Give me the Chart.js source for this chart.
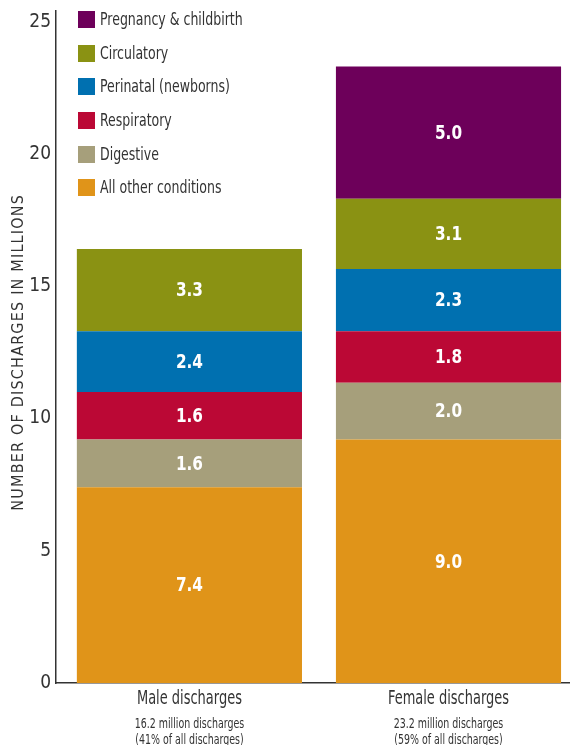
<!DOCTYPE html>
<html>
<head>
<meta charset="utf-8">
<script src="https://cdn.jsdelivr.net/npm/chart.js@4"></script>
<style>
  body { margin: 0; background: #fff; }
  #wrap { position: relative; width: 570px; height: 745px; }
  #legend { position: absolute; left: 78px; top: 11px; font: 17px "DejaVu Sans Condensed", sans-serif; color: #333; }
  #legend div { height: 33.7px; display: flex; align-items: flex-start; white-space: nowrap; }
  #legend span.sw { width: 17px; height: 17px; margin-right: 5px; flex: none; }
  #legend span.tx { line-height: 17px; display: inline-block; transform: scaleX(0.82); transform-origin: left center; }
</style>
</head>
<body>
<div id="wrap">
  <canvas id="chart" width="570" height="745"></canvas>
  <div id="legend"></div>
</div>
<script>
// groups on the x axis
const groups = ['Male discharges', 'Female discharges'];
const groupNotes = [
    ['16.2 million discharges', '(41% of all discharges)'],
    ['23.2 million discharges', '(59% of all discharges)']
];

// stacked from the bottom up
const conditions = ['All other conditions', 'Digestive', 'Respiratory', 'Perinatal (newborns)', 'Circulatory', 'Pregnancy & childbirth'];
const colors = ['#e09419', '#a69f7b', '#bb0835', '#0070b0', '#8a9213', '#6d005a'];

// segment heights as drawn (millions)
const maleHeights = [7.4, 1.8, 1.8, 2.3, 3.1, null];
const femaleHeights = [9.2, 2.15, 1.95, 2.35, 2.65, 5.0];

// numbers printed on the segments
const maleLabels = ['7.4', '1.6', '1.6', '2.4', '3.3', ''];
const femaleLabels = ['9.0', '2.0', '1.8', '2.3', '3.1', '5.0'];

const yTicks = [0, 5, 10, 15, 20, 25];

const narrow = '"DejaVu Sans Condensed", sans-serif';

// no condensed face is installed, so squeeze the text a bit
function narrowText(ctx, text, x, y, squeeze) {
    ctx.save();
    ctx.translate(x, y);
    ctx.scale(squeeze, 1);
    ctx.fillText(text, 0, 0);
    ctx.restore();
}

const segmentLabels = {
    id: 'segmentLabels',
    afterDatasetsDraw(chart) {
        const ctx = chart.ctx;
        ctx.save();
        ctx.font = 'bold 20px ' + narrow;
        ctx.fillStyle = '#fff';
        ctx.textAlign = 'center';
        ctx.textBaseline = 'middle';
        chart.data.datasets.forEach((ds, i) => {
            const meta = chart.getDatasetMeta(i);
            [maleLabels, femaleLabels].forEach((labels, g) => {
                const el = meta.data[g];
                if (!el || !labels[i]) return;
                narrowText(ctx, labels[i], el.x, (el.y + el.base) / 2 + 1, 0.85);
            });
        });
        ctx.restore();
    }
};

const extraText = {
    id: 'extraText',
    afterDraw(chart) {
        const ctx = chart.ctx;
        const x = chart.scales.x;
        const area = chart.chartArea;
        ctx.save();
        ctx.fillStyle = '#333';
        ctx.textAlign = 'center';
        ctx.textBaseline = 'middle';
        groups.forEach((name, g) => {
            const px = x.getPixelForValue(g);
            ctx.font = '19px ' + narrow;
            narrowText(ctx, name, px, area.bottom + 16, 0.76);
            ctx.font = '14px ' + narrow;
            narrowText(ctx, groupNotes[g][0], px, area.bottom + 41, 0.75);
            narrowText(ctx, groupNotes[g][1], px, area.bottom + 57, 0.75);
        });
        // axis title
        ctx.translate(19, (chart.scales.y.getPixelForValue(0) + chart.scales.y.getPixelForValue(25)) / 2);
        ctx.rotate(-Math.PI / 2);
        ctx.font = '16px ' + narrow;
        ctx.letterSpacing = '1.2px';
        ctx.fillText('NUMBER OF DISCHARGES IN MILLIONS', 0, 0);
        ctx.restore();
    }
};

const datasets = conditions.map((name, i) => ({
    label: name,
    data: [{x: 0, y: maleHeights[i]}, {x: 1, y: femaleHeights[i]}],
    backgroundColor: colors[i],
    borderWidth: 0,
    categoryPercentage: 1,
    barPercentage: 0.869
}));

let stackChart = new Chart(document.getElementById('chart'), {
    type: 'bar',
    data: { datasets: datasets },
    options: {
        responsive: false,
        animation: false,
        layout: { padding: { top: 11, right: 0, left: 0, bottom: 0 } },
        plugins: {
            legend: { display: false },
            tooltip: { enabled: false }
        },
        scales: {
            x: {
                type: 'linear',
                stacked: true,
                offset: false,
                min: -0.515,
                max: 1.469,
                grid: { display: false },
                border: { display: true, color: '#333', width: 1.5 },
                afterBuildTicks(scale) {
                    scale.ticks = groups.map((g, i) => ({ value: i }));
                },
                afterFit(scale) {
                    scale.height = 62;
                    scale.paddingLeft = 0;
                    scale.paddingRight = 0;
                },
                ticks: { display: false }
            },
            y: {
                stacked: true,
                min: 0,
                max: 25.4,
                grid: { display: false, drawTicks: false },
                border: { display: true, color: '#333', width: 1.5 },
                afterBuildTicks(scale) {
                    scale.ticks = yTicks.map(v => ({ value: v }));
                },
                afterFit(scale) {
                    scale.width = 56;
                    scale.paddingTop = 0;
                    scale.paddingBottom = 0;
                },
                ticks: {
                    padding: 5,
                    color: '#333',
                    font: { family: narrow, size: 19 }
                }
            }
        }
    },
    plugins: [segmentLabels, extraText]
});

// legend, top item first
const legend = document.getElementById('legend');
conditions.slice().reverse().forEach((name) => {
    const i = conditions.indexOf(name);
    const row = document.createElement('div');
    const sw = document.createElement('span');
    sw.className = 'sw';
    sw.style.background = colors[i];
    const txt = document.createElement('span');
    txt.className = 'tx';
    txt.textContent = name;
    row.appendChild(sw);
    row.appendChild(txt);
    legend.appendChild(row);
});
</script>
</body>
</html>
